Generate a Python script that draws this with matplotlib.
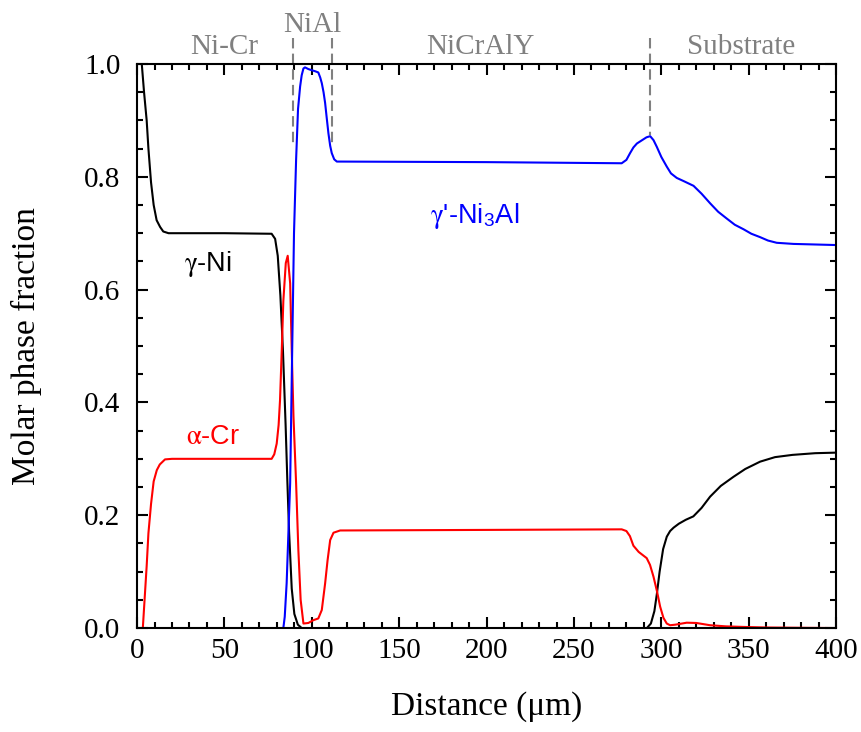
import numpy as np
import matplotlib
matplotlib.use("Agg")
import matplotlib.pyplot as plt
from matplotlib.ticker import MultipleLocator

plt.rcParams["font.family"] = ["Liberation Serif", "DejaVu Serif"]
plt.rcParams["mathtext.fontset"] = "custom"
plt.rcParams["mathtext.rm"] = "Liberation Sans"
plt.rcParams["mathtext.it"] = "STIXGeneral"

# gamma-Ni (black)
ni_x = [0, 2.7, 4, 5.5, 6.5, 8, 9.5, 11.2, 13.2, 15,
        18, 50, 77, 79, 80.5, 82, 83.5, 85, 86, 87,
        88.5, 90, 92, 94.2, 200, 291.7, 294, 296, 297.4, 299,
        301, 303.1, 305, 307, 310, 314, 318.3, 323, 327.9, 334,
        341.2, 348, 356.5, 365, 375, 388, 400]
ni_y = [1.1, 1.0, 0.95, 0.90, 0.85, 0.79, 0.75, 0.723, 0.711, 0.703,
        0.70, 0.70, 0.699, 0.69, 0.66, 0.59, 0.49, 0.36, 0.26, 0.17,
        0.07, 0.025, 0.006, 0.0, 0.0, 0.0, 0.008, 0.03, 0.06, 0.10,
        0.14, 0.162, 0.172, 0.178, 0.185, 0.192, 0.198, 0.213, 0.233, 0.252,
        0.268, 0.282, 0.295, 0.303, 0.307, 0.310, 0.311]

# alpha-Cr (red)
cr_x = [0, 3.3, 4.5, 5.5, 6.5, 8, 9.5, 11.3, 13, 16,
        20, 50, 77, 78.5, 79.9, 81, 81.8, 82.8, 83.7, 85.1,
        86.2, 87.6, 88.5, 89.5, 91, 92.3, 93.6, 95.2, 98, 100.9,
        103.7, 105.7, 107.6, 109, 110.5, 112.4, 116.2, 200, 277.3, 280,
        282, 284, 287, 289.5, 291.6, 293.5, 295.5, 297.5, 299.3, 301.2,
        303.1, 305, 308, 314.5, 320, 327.9, 337, 347, 360, 400]
cr_y = [0, 0, 0.06, 0.11, 0.168, 0.22, 0.26, 0.28, 0.29, 0.299,
        0.30, 0.30, 0.30, 0.308, 0.327, 0.36, 0.404, 0.493, 0.58, 0.647,
        0.66, 0.611, 0.493, 0.375, 0.257, 0.138, 0.05, 0.008, 0.009, 0.014,
        0.017, 0.032, 0.079, 0.12, 0.156, 0.169, 0.173, 0.174, 0.175, 0.172,
        0.163, 0.146, 0.135, 0.129, 0.124, 0.112, 0.091, 0.065, 0.038, 0.018,
        0.008, 0.005, 0.006, 0.0095, 0.009, 0.005, 0.003, 0.002, 0.001, 0.0]

# gamma'-Ni3Al (blue)
al_x = [0, 83.7, 84.5, 85.6, 86.5, 87.6, 88.7, 89.8, 91, 92.1,
        93.3, 94.2, 95.2, 96.1, 98, 99.9, 102, 103.7, 104.8, 105.7,
        106.7, 107.6, 108.5, 109.5, 110.5, 111.4, 112.8, 114.3, 200, 277.3,
        280, 282.1, 284, 286, 289, 291.5, 293.6, 295.5, 297.4, 300,
        303.1, 305.5, 308.8, 313, 318.4, 323, 327.9, 332.5, 337.4, 342,
        347, 351.5, 356.5, 361, 366, 375.6, 400]
al_y = [0, 0, 0.02, 0.08, 0.16, 0.257, 0.48, 0.70, 0.83, 0.92,
        0.96, 0.98, 0.992, 0.994, 0.991, 0.989, 0.987, 0.985, 0.976, 0.966,
        0.95, 0.931, 0.905, 0.877, 0.855, 0.842, 0.831, 0.827, 0.826, 0.824,
        0.830, 0.842, 0.852, 0.859, 0.865, 0.870, 0.872, 0.865, 0.853, 0.835,
        0.818, 0.806, 0.798, 0.792, 0.784, 0.770, 0.753, 0.738, 0.726, 0.715,
        0.707, 0.699, 0.693, 0.687, 0.683, 0.681, 0.679]

# layer boundaries and names
bound_x = [89.5, 111.4, 293.6]
bound_bottom = [0.853, 0.853, 0.874]
layer_names = ["Ni-Cr", "NiAl", "NiCrAlY", "Substrate"]
layer_x = [49.7, 100.4, 196.3, 345.5]
layer_y = [1.018, 1.057, 1.018, 1.018]

# curve labels
phase_names = [r"$\gamma$-Ni", r"$\alpha$-Cr", r"$\gamma$'-Ni$_\mathrm{3}$Al"]
phase_colors = ["black", "red", "blue"]
phase_x = [40.8, 43.7, 193.4]
phase_y = [0.6335, 0.326, 0.7186]

fig = plt.figure(figsize=(8.62, 7.32), dpi=100)
ax = fig.add_axes([0.159, 0.142, 0.811, 0.7706])

ax.plot(ni_x, ni_y, color="black", lw=1.5)
ax.plot(cr_x, cr_y, color="red", lw=1.5)
ax.plot(al_x, al_y, color="blue", lw=1.5)

for bx, bb in zip(bound_x, bound_bottom):
    ax.plot([bx, bx], [1.046, bb], color="#808080", lw=1.5,
            ls=(0, (5, 2.5)), clip_on=False)

for name, lx, ly in zip(layer_names, layer_x, layer_y):
    ax.text(lx, ly, name, color="#808080", fontsize=21, ha="center",
            va="baseline", clip_on=False)

for name, c, px, py in zip(phase_names, phase_colors, phase_x, phase_y):
    ax.text(px, py, name, color=c, fontsize=19.5, ha="center",
            va="baseline", family=["Liberation Sans"])

ax.set_xlim(0, 400)
ax.set_ylim(0, 1.0)
ax.xaxis.set_major_locator(MultipleLocator(50))
ax.xaxis.set_minor_locator(MultipleLocator(10))
ax.yaxis.set_major_locator(MultipleLocator(0.2))
ax.yaxis.set_minor_locator(MultipleLocator(0.05))
ax.yaxis.set_major_formatter(plt.FormatStrFormatter("%.1f"))

ax.tick_params(which="both", direction="in", top=True, right=True, width=1.5)
ax.tick_params(which="major", length=8, labelsize=21)
ax.tick_params(which="minor", length=4)
ax.tick_params(axis="x", pad=7)
ax.tick_params(axis="y", pad=12)
for s in ax.spines.values():
    s.set_linewidth(1.5)

ax.set_xlabel("Distance (μm)", fontsize=24, labelpad=20)
ax.set_ylabel("Molar phase fraction", fontsize=24, labelpad=30)

fig.savefig("out.png", dpi=100)
